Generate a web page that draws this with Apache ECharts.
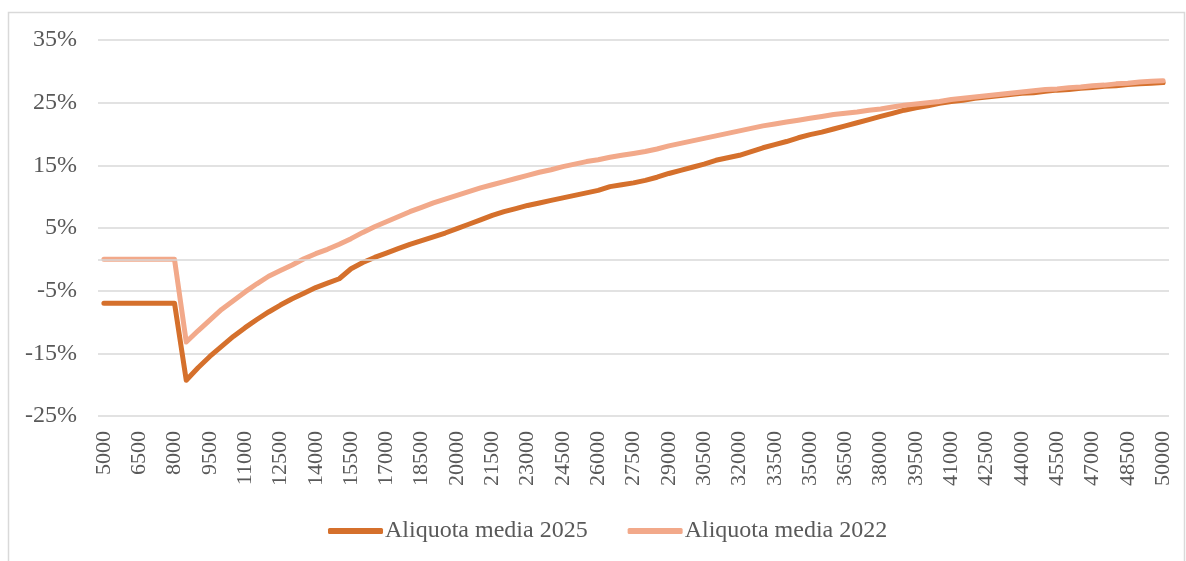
<!DOCTYPE html>
<html>
<head>
<meta charset="utf-8">
<script src="https://cdn.jsdelivr.net/npm/echarts@6/dist/echarts.min.js"></script>
<style>
html,body{margin:0;padding:0;background:#fff;}
#c{width:1186px;height:561px;}
</style>
</head>
<body>
<div id="c"></div>
<script>
// categories: income levels 5000..50000 step 500
var categories = [
 '5000','5500','6000','6500','7000','7500','8000','8500','9000','9500',
 '10000','10500','11000','11500','12000','12500','13000','13500','14000','14500',
 '15000','15500','16000','16500','17000','17500','18000','18500','19000','19500',
 '20000','20500','21000','21500','22000','22500','23000','23500','24000','24500',
 '25000','25500','26000','26500','27000','27500','28000','28500','29000','29500',
 '30000','30500','31000','31500','32000','32500','33000','33500','34000','34500',
 '35000','35500','36000','36500','37000','37500','38000','38500','39000','39500',
 '40000','40500','41000','41500','42000','42500','43000','43500','44000','44500',
 '45000','45500','46000','46500','47000','47500','48000','48500','49000','49500',
 '50000'
];

var aliquota2025 = [
 -7.0,-7.0,-7.0,-7.0,-7.0,-7.0,-7.0,-19.3,-17.3,-15.5,
 -13.9,-12.3,-10.9,-9.6,-8.4,-7.3,-6.3,-5.4,-4.5,-3.8,
 -3.1,-1.5,-0.5,0.3,1.0,1.7,2.4,3.0,3.6,4.2,
 4.9,5.6,6.3,7.0,7.6,8.1,8.6,9.0,9.4,9.8,
 10.2,10.6,11.0,11.6,11.9,12.2,12.6,13.1,13.7,14.2,
 14.7,15.2,15.8,16.2,16.6,17.2,17.8,18.3,18.8,19.4,
 19.9,20.3,20.8,21.3,21.8,22.3,22.8,23.3,23.8,24.2,
 24.5,24.9,25.2,25.4,25.7,25.9,26.1,26.3,26.5,26.6,
 26.8,27.0,27.1,27.3,27.4,27.6,27.7,27.9,28.0,28.1,
 28.2
];

var aliquota2022 = [
 0,0,0,0,0,0,0,-13.2,-11.4,-9.7,
 -8.0,-6.6,-5.2,-3.9,-2.7,-1.8,-0.9,0.1,0.9,1.6,
 2.4,3.3,4.3,5.2,6.0,6.8,7.6,8.3,9.0,9.6,
 10.2,10.8,11.4,11.9,12.4,12.9,13.4,13.9,14.3,14.8,
 15.2,15.6,15.9,16.3,16.6,16.9,17.2,17.6,18.1,18.5,
 18.9,19.3,19.7,20.1,20.5,20.9,21.3,21.6,21.9,22.2,
 22.5,22.8,23.1,23.3,23.5,23.8,24.0,24.3,24.6,24.8,
 25.0,25.2,25.5,25.7,25.9,26.1,26.3,26.5,26.7,26.9,
 27.1,27.2,27.4,27.5,27.7,27.8,28.0,28.1,28.3,28.4,
 28.5
];

var seriesNames = ['Aliquota media 2025', 'Aliquota media 2022'];
var yTicks = { min: -25, max: 35, step: 10 };

var FONT = '"Liberation Serif", "Times New Roman", serif';
var TEXT = '#595959';
var GRID = '#d9d9d9';

var chart = echarts.init(document.getElementById('c'));
chart.setOption({
  animation: false,
  backgroundColor: '#ffffff',
  graphic: [{
    type: 'rect',
    shape: { x: 8.5, y: 12.5, width: 1176, height: 560 },
    style: { fill: 'none', stroke: GRID, lineWidth: 1.5 },
    silent: true
  }],
  grid: { left: 98, right: 17, top: 40, bottom: 145, containLabel: false },
  legend: {
    left: 323,
    top: 514,
    itemGap: 40,
    itemWidth: 55,
    itemHeight: 6,
    icon: 'roundRect',
    textStyle: { fontFamily: FONT, fontSize: 24, color: TEXT, padding: [0, 0, 0, -3] },
    data: seriesNames
  },
  xAxis: {
    type: 'category',
    data: categories,
    boundaryGap: true,
    axisLine: { show: false },
    axisTick: { show: false },
    axisLabel: {
      interval: 2,
      rotate: 90,
      margin: 15,
      fontFamily: FONT,
      fontSize: 22,
      color: TEXT
    },
    splitLine: { show: false }
  },
  yAxis: {
    type: 'value',
    min: yTicks.min,
    max: yTicks.max,
    interval: yTicks.step,
    axisLine: { show: false },
    axisTick: { show: false },
    axisLabel: {
      formatter: function (v) { return v + '%'; },
      margin: 21,
      fontFamily: FONT,
      fontSize: 24,
      color: TEXT
    },
    splitLine: { lineStyle: { color: GRID, width: 1.5 } }
  },
  series: [
    {
      name: seriesNames[0],
      type: 'line',
      data: aliquota2025,
      symbol: 'none',
      smooth: false,
      lineStyle: { color: '#d5702c', width: 5, cap: 'round', join: 'round' },
      itemStyle: { color: '#d5702c' },
      markLine: {
        silent: true,
        symbol: 'none',
        label: { show: false },
        lineStyle: { color: GRID, width: 1.5, type: 'solid' },
        data: [{ yAxis: 0 }]
      }
    },
    {
      name: seriesNames[1],
      type: 'line',
      data: aliquota2022,
      symbol: 'none',
      smooth: false,
      lineStyle: { color: '#f2a98a', width: 5, cap: 'round', join: 'round' },
      itemStyle: { color: '#f2a98a' }
    }
  ]
});
</script>
</body>
</html>
